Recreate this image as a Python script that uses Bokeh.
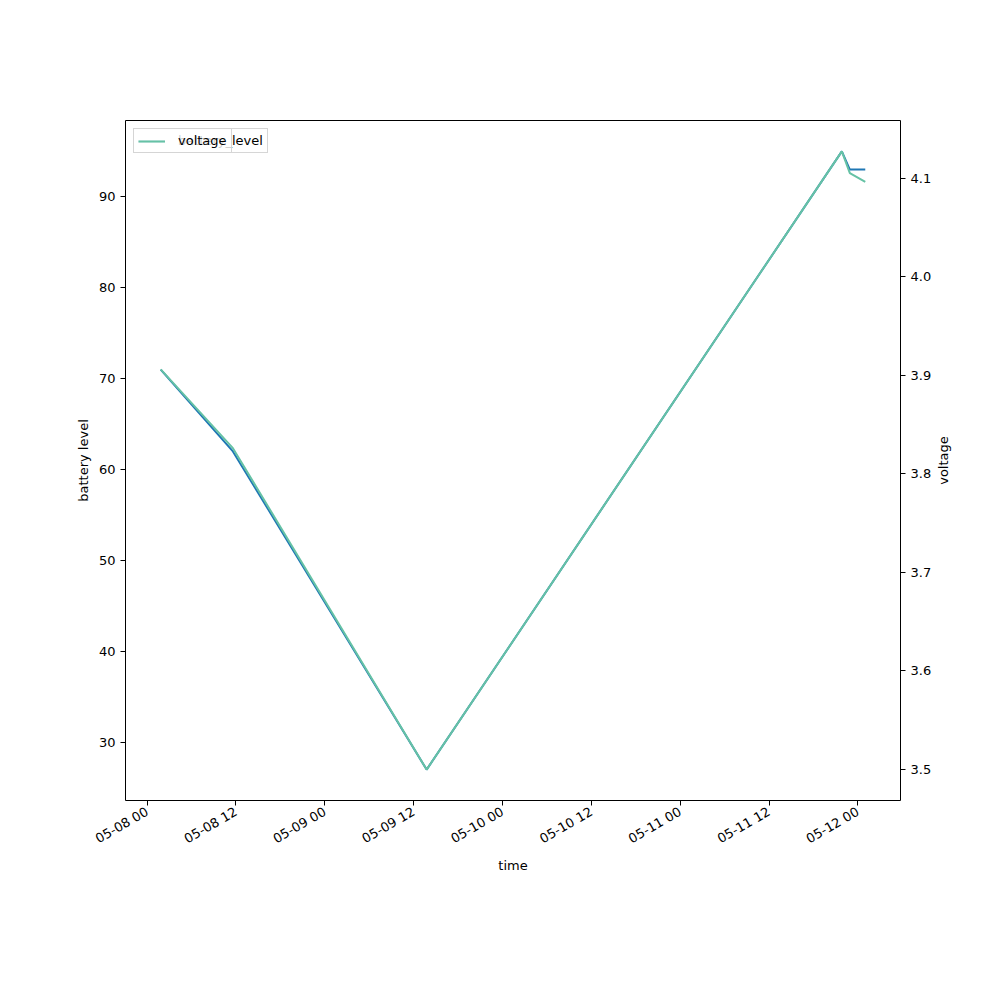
import math
from datetime import datetime
from bokeh.plotting import figure
from bokeh.models import (Range1d, LinearAxis, FixedTicker, DatetimeTickFormatter,
                          NumeralTickFormatter, Legend, LegendItem, Label)
from bokeh.embed import file_html
from bokeh.resources import INLINE

# ---- data ----
times = ["2024-05-08 01:50", "2024-05-08 11:35", "2024-05-09 13:45",
         "2024-05-11 21:50", "2024-05-11 22:55", "2024-05-12 01:00"]
battery_level = [71, 62, 27, 95, 93, 93]
voltage = [3.906, 3.826, 3.500, 4.127, 4.105, 4.096]
x_tick_labels = ["05-08 00", "05-08 12", "05-09 00", "05-09 12", "05-10 00",
                 "05-10 12", "05-11 00", "05-11 12", "05-12 00"]
left_ticks = [30, 40, 50, 60, 70, 80, 90]
right_ticks = [3.5, 3.6, 3.7, 3.8, 3.9, 4.0, 4.1]

BLUE = "#1f77b4"
TEAL = "#66c2a5"
FONT = "DejaVu Sans"

t = [datetime.strptime(s, "%Y-%m-%d %H:%M") for s in times]
t_ms = [(d - datetime(1970, 1, 1)).total_seconds() * 1000 for d in t]
tick_ms = [(datetime.strptime("2024-" + s, "%Y-%m-%d %H") - datetime(1970, 1, 1)).total_seconds() * 1000
           for s in x_tick_labels]


def padded(vals, frac=0.05):
    lo, hi = min(vals), max(vals)
    d = (hi - lo) * frac
    return lo - d, hi + d


x0, x1 = padded(t_ms)
y0, y1 = padded(battery_level)
v0, v1 = padded(voltage)

FW, FH = 775, 680
p = figure(width=992, height=992, x_axis_type="datetime",
           x_range=Range1d(x0, x1), y_range=Range1d(y0, y1),
           output_backend="svg", toolbar_location=None,
           min_border_left=125, min_border_right=92,
           min_border_top=120, min_border_bottom=192)
p.frame_width = FW
p.frame_height = FH
p.background_fill_color = "white"
p.border_fill_color = "white"
p.outline_line_color = "black"
p.outline_line_width = 1
p.grid.visible = False

p.extra_y_ranges = {"v": Range1d(v0, v1)}

r1 = p.line(t, battery_level, line_color=BLUE, line_width=2)
r2 = p.line(t, voltage, line_color=TEAL, line_width=2, y_range_name="v")

raxis = LinearAxis(y_range_name="v")
p.add_layout(raxis, "right")

p.xaxis.ticker = FixedTicker(ticks=tick_ms)
fmt = "%m-%d %H"
p.xaxis.formatter = DatetimeTickFormatter(milliseconds=fmt, seconds=fmt, minsec=fmt,
                                          minutes=fmt, hourmin=fmt, hours=fmt,
                                          days=fmt, months=fmt, years=fmt)
p.xaxis.major_label_orientation = math.pi / 6
p.xaxis.axis_label = "time"
p.yaxis[0].axis_label = "battery level"
p.yaxis[0].ticker = FixedTicker(ticks=left_ticks)
raxis.ticker = FixedTicker(ticks=right_ticks)
raxis.formatter = NumeralTickFormatter(format="0.0")

for ax in [p.xaxis[0], p.yaxis[0], raxis]:
    ax.axis_line_color = None
    ax.major_tick_out = 5
    ax.major_tick_in = 0
    ax.minor_tick_out = 0
    ax.minor_tick_in = 0
    ax.major_tick_line_color = "black"
    ax.major_label_text_font = FONT
    ax.major_label_text_font_size = "13px"
    ax.major_label_text_color = "black"
    ax.axis_label_text_font = FONT
    ax.axis_label_text_font_size = "13px"
    ax.axis_label_text_font_style = "normal"
    ax.axis_label_text_color = "black"
    ax.major_label_standoff = 5
    ax.axis_label_standoff = 5

p.xaxis[0].axis_label_standoff = 2

# right axis title, reading bottom-to-top like the reference
p.add_layout(Label(x=9, y=FH / 2, x_units="screen", y_units="screen",
                   text="voltage", angle=math.pi / 2, text_align="center",
                   text_baseline="middle", text_font=FONT, text_font_size="13px",
                   text_color="black"), "right")


def make_legend(label, rend):
    return Legend(items=[LegendItem(label=label, renderers=[rend])],
                  location="top_left", margin=8, padding=4, spacing=0,
                  glyph_width=27, glyph_height=12, label_height=12,
                  label_standoff=13, label_text_font=FONT,
                  label_text_font_size="13px", label_text_color="black",
                  background_fill_color="white", background_fill_alpha=0.8,
                  border_line_color="#cccccc", border_line_alpha=0.8)


p.add_layout(make_legend("battery_level", r1))
p.add_layout(make_legend("voltage", r2))

open("out.html", "w").write(file_html(p, INLINE))
